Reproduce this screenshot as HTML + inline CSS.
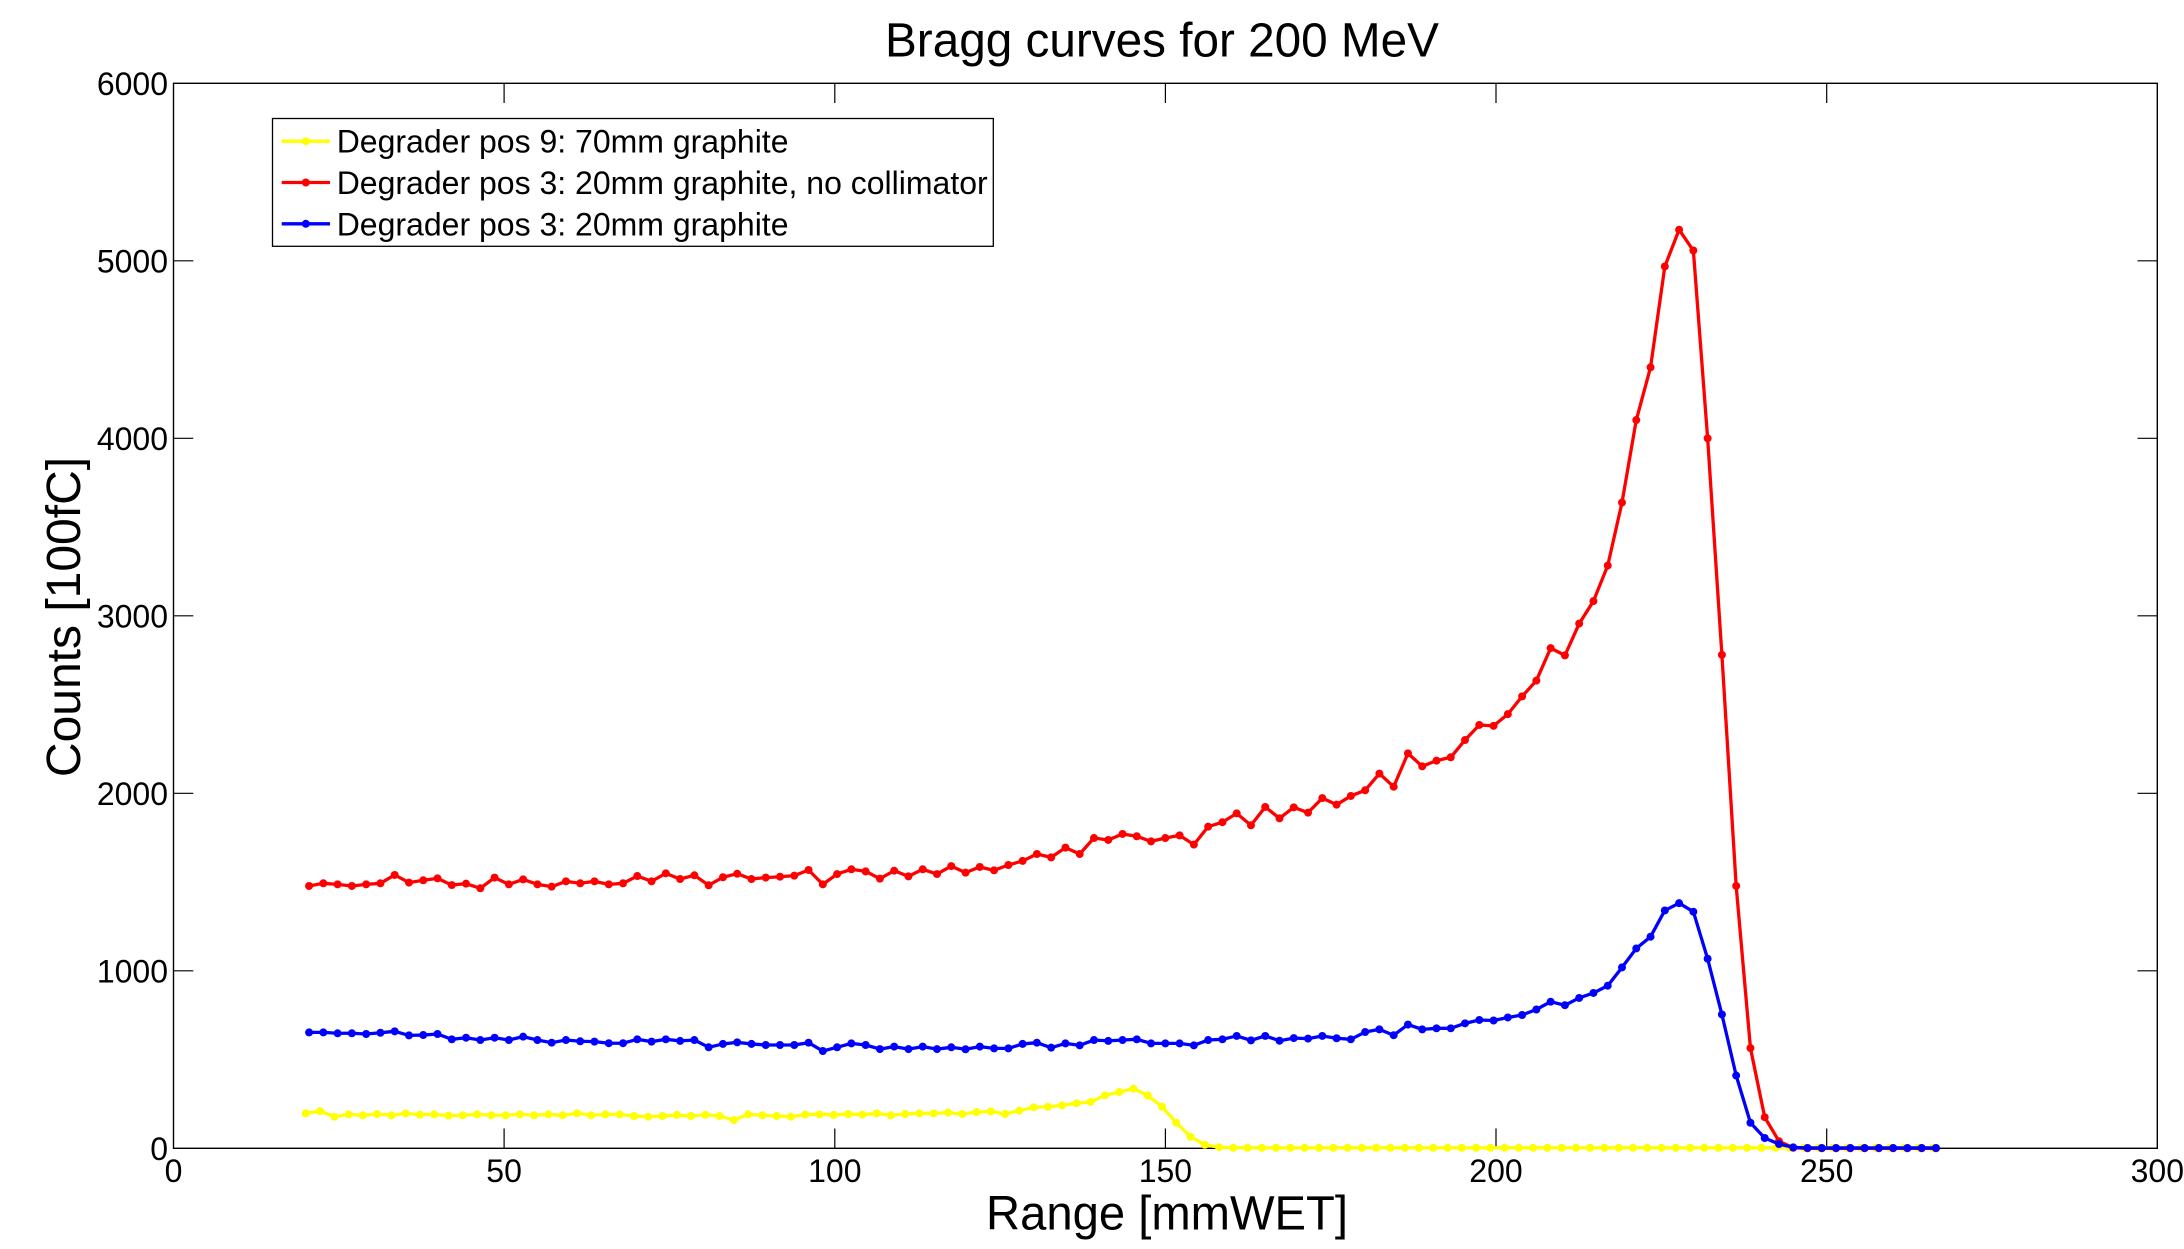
<!DOCTYPE html>
<html>
<head>
<meta charset="utf-8">
<style>
  html, body { margin: 0; padding: 0; background: #ffffff; }
  svg { display: block; }
  text { font-family: "Liberation Sans", Arial, sans-serif; fill: #000; }
</style>
</head>
<body>
<svg width="2184" height="1249" viewBox="0 0 2184 1249" xmlns="http://www.w3.org/2000/svg">
  <defs>
    <marker id="my" markerUnits="userSpaceOnUse" markerWidth="1" markerHeight="50" refX="0" refY="0" overflow="visible">
      <ellipse cx="0" cy="0" rx="0.28" ry="22.5" fill="#ffff00"/>
    </marker>
    <marker id="mr" markerUnits="userSpaceOnUse" markerWidth="1" markerHeight="50" refX="0" refY="0" overflow="visible">
      <ellipse cx="0" cy="0" rx="0.28" ry="22.5" fill="#ff0000"/>
    </marker>
    <marker id="mb" markerUnits="userSpaceOnUse" markerWidth="1" markerHeight="50" refX="0" refY="0" overflow="visible">
      <ellipse cx="0" cy="0" rx="0.28" ry="22.5" fill="#0000ff"/>
    </marker>
  </defs>

  <rect x="0" y="0" width="2184" height="1249" fill="#ffffff"/>

  <!-- Title -->
  <text x="1162" y="56.5" font-size="48" text-anchor="middle" textLength="554" lengthAdjust="spacingAndGlyphs">Bragg curves for 200 MeV</text>

  <!-- Axes box -->
  <rect x="173.5" y="83.3" width="1983.8" height="1065" fill="none" stroke="#000" stroke-width="1.4"/>

  <!-- Ticks -->
  <path d="M504.1 1148.3V1128.5M834.8 1148.3V1128.5M1165.4 1148.3V1128.5M1496 1148.3V1128.5M1826.7 1148.3V1128.5
           M504.1 83.3V103M834.8 83.3V103M1165.4 83.3V103M1496 83.3V103M1826.7 83.3V103
           M173.5 970.8H193.3M173.5 793.3H193.3M173.5 615.8H193.3M173.5 438.3H193.3M173.5 260.8H193.3
           M2157.3 970.8H2137.5M2157.3 793.3H2137.5M2157.3 615.8H2137.5M2157.3 438.3H2137.5M2157.3 260.8H2137.5"
        stroke="#000" stroke-width="1.2" fill="none"/>

  <!-- Y tick labels -->
  <g font-size="32" text-anchor="end">
    <text x="168" y="1159.8">0</text>
    <text x="168" y="982.3">1000</text>
    <text x="168" y="804.8">2000</text>
    <text x="168" y="627.3">3000</text>
    <text x="168" y="449.8">4000</text>
    <text x="168" y="272.3">5000</text>
    <text x="168" y="94.8">6000</text>
  </g>

  <!-- X tick labels -->
  <g font-size="32" text-anchor="middle">
    <text x="173.5" y="1182">0</text>
    <text x="504.1" y="1182">50</text>
    <text x="834.8" y="1182">100</text>
    <text x="1165.4" y="1182">150</text>
    <text x="1496" y="1182">200</text>
    <text x="1826.7" y="1182">250</text>
    <text x="2157.3" y="1182">300</text>
  </g>

  <!-- Axis labels -->
  <text x="1167" y="1229.3" font-size="48" text-anchor="middle" textLength="362" lengthAdjust="spacingAndGlyphs">Range [mmWET]</text>
  <text transform="translate(80,617) rotate(-90)" x="0" y="0" font-size="48" text-anchor="middle">Counts [100fC]</text>

  <!-- Yellow series -->
  <g transform="matrix(14.271 0 0 -0.1775 305.76 1148.3)">
    <polyline fill="none" stroke="#ffff00" stroke-width="3.3" stroke-linejoin="round" vector-effect="non-scaling-stroke"
      points="0,197 1,210 2,178 3,191 4,186 5,193 6,186 7,197 8,189 9,191 10,184 11,186 12,191 13,186 14,186 15,191 16,186 17,191 18,186 19,197 20,186 21,191 22,191 23,182 24,178 25,182 26,188 27,182 28,189 29,182 30,159 31,191 32,186 33,182 34,178 35,190 36,191 37,188 38,193 39,190 40,197 41,186 42,193 43,197 44,197 45,201 46,193 47,204 48,208 49,193 50,212 51,231 52,234 53,242 54,254 55,261 56,298 57,317 58,336 59,298 60,234 61,144 62,65 63,20 64,6 65,3 66,3 67,3 68,3 69,3 70,3 71,3 72,3 73,3 74,3 75,3 76,3 77,3 78,3 79,3 80,3 81,3 82,3 83,3 84,3 85,3 86,3 87,3 88,3 89,3 90,3 91,3 92,3 93,3 94,3 95,3 96,3 97,3 98,3 99,3 100,3 101,3 102,3 103,3 104,3 105,3 106,3 107,3 108,3 109,3 110,3 111,3 112,3 113,3 114,3"/>
    <polyline fill="none" stroke="none" marker-start="url(#my)" marker-mid="url(#my)" marker-end="url(#my)"
      points="0,197 1,210 2,178 3,191 4,186 5,193 6,186 7,197 8,189 9,191 10,184 11,186 12,191 13,186 14,186 15,191 16,186 17,191 18,186 19,197 20,186 21,191 22,191 23,182 24,178 25,182 26,188 27,182 28,189 29,182 30,159 31,191 32,186 33,182 34,178 35,190 36,191 37,188 38,193 39,190 40,197 41,186 42,193 43,197 44,197 45,201 46,193 47,204 48,208 49,193 50,212 51,231 52,234 53,242 54,254 55,261 56,298 57,317 58,336 59,298 60,234 61,144 62,65 63,20 64,6 65,3 66,3 67,3 68,3 69,3 70,3 71,3 72,3 73,3 74,3 75,3 76,3 77,3 78,3 79,3 80,3 81,3 82,3 83,3 84,3 85,3 86,3 87,3 88,3 89,3 90,3 91,3 92,3 93,3 94,3 95,3 96,3 97,3 98,3 99,3 100,3 101,3 102,3 103,3 104,3 105,3 106,3 107,3 108,3 109,3 110,3 111,3 112,3 113,3 114,3"/>
  </g>

  <!-- Red series -->
  <g transform="matrix(14.271 0 0 -0.1775 309.07 1148.3)">
    <polyline fill="none" stroke="#ff0000" stroke-width="3.3" stroke-linejoin="round" vector-effect="non-scaling-stroke"
      points="0,1478 1,1493 2,1487 3,1478 4,1487 5,1493 6,1540 7,1497 8,1510 9,1521 10,1483 11,1491 12,1465 13,1525 14,1487 15,1515 16,1487 17,1474 18,1504 19,1493 20,1504 21,1487 22,1493 23,1534 24,1504 25,1549 26,1517 27,1538 28,1482 29,1527 30,1547 31,1517 32,1525 33,1530 34,1536 35,1568 36,1487 37,1545 38,1572 39,1560 40,1519 41,1564 42,1532 43,1572 44,1545 45,1590 46,1553 47,1585 48,1566 49,1596 50,1619 51,1658 52,1639 53,1694 54,1658 55,1748 56,1737 57,1771 58,1758 59,1729 60,1748 61,1763 62,1711 63,1812 64,1837 65,1887 66,1820 67,1923 68,1859 69,1921 70,1891 71,1973 72,1936 73,1985 74,2017 75,2111 76,2037 77,2225 78,2152 79,2184 80,2203 81,2300 82,2385 83,2380 84,2446 85,2546 86,2635 87,2818 88,2777 89,2956 90,3083 91,3283 92,3638 93,4103 94,4400 95,4968 96,5175 97,5058 98,4000 99,2780 100,1478 101,565 102,175 103,40 104,3 105,0 106,0 107,0 108,0 109,0 110,0 111,0 112,0 113,0 114,0"/>
    <polyline fill="none" stroke="none" marker-start="url(#mr)" marker-mid="url(#mr)" marker-end="url(#mr)"
      points="0,1478 1,1493 2,1487 3,1478 4,1487 5,1493 6,1540 7,1497 8,1510 9,1521 10,1483 11,1491 12,1465 13,1525 14,1487 15,1515 16,1487 17,1474 18,1504 19,1493 20,1504 21,1487 22,1493 23,1534 24,1504 25,1549 26,1517 27,1538 28,1482 29,1527 30,1547 31,1517 32,1525 33,1530 34,1536 35,1568 36,1487 37,1545 38,1572 39,1560 40,1519 41,1564 42,1532 43,1572 44,1545 45,1590 46,1553 47,1585 48,1566 49,1596 50,1619 51,1658 52,1639 53,1694 54,1658 55,1748 56,1737 57,1771 58,1758 59,1729 60,1748 61,1763 62,1711 63,1812 64,1837 65,1887 66,1820 67,1923 68,1859 69,1921 70,1891 71,1973 72,1936 73,1985 74,2017 75,2111 76,2037 77,2225 78,2152 79,2184 80,2203 81,2300 82,2385 83,2380 84,2446 85,2546 86,2635 87,2818 88,2777 89,2956 90,3083 91,3283 92,3638 93,4103 94,4400 95,4968 96,5175 97,5058 98,4000 99,2780 100,1478 101,565 102,175 103,40 104,3 105,0 106,0 107,0 108,0 109,0 110,0 111,0 112,0 113,0 114,0"/>
  </g>

  <!-- Blue series -->
  <g transform="matrix(14.271 0 0 -0.1775 309.07 1148.3)">
    <polyline fill="none" stroke="#0000ff" stroke-width="3.3" stroke-linejoin="round" vector-effect="non-scaling-stroke"
      points="0,653 1,653 2,648 3,648 4,644 5,651 6,659 7,636 8,638 9,644 10,614 11,623 12,610 13,623 14,610 15,629 16,610 17,595 18,610 19,603 20,601 21,592 22,592 23,614 24,601 25,614 26,605 27,610 28,569 29,588 30,597 31,588 32,582 33,582 34,582 35,595 36,548 37,569 38,591 39,582 40,559 41,573 42,559 43,573 44,559 45,569 46,558 47,573 48,563 49,563 50,588 51,595 52,567 53,591 54,580 55,610 56,605 57,610 58,614 59,591 60,591 61,591 62,580 63,610 64,614 65,633 66,608 67,633 68,606 69,621 70,618 71,633 72,620 73,614 74,655 75,670 76,637 77,697 78,670 79,676 80,676 81,704 82,723 83,720 84,737 85,751 86,782 87,826 88,806 89,847 90,875 91,916 92,1019 93,1126 94,1192 95,1340 96,1381 97,1333 98,1068 99,754 100,410 101,144 102,58 103,24 104,5 105,2 106,2 107,2 108,2 109,2 110,2 111,2 112,2 113,2 114,2"/>
    <polyline fill="none" stroke="none" marker-start="url(#mb)" marker-mid="url(#mb)" marker-end="url(#mb)"
      points="0,653 1,653 2,648 3,648 4,644 5,651 6,659 7,636 8,638 9,644 10,614 11,623 12,610 13,623 14,610 15,629 16,610 17,595 18,610 19,603 20,601 21,592 22,592 23,614 24,601 25,614 26,605 27,610 28,569 29,588 30,597 31,588 32,582 33,582 34,582 35,595 36,548 37,569 38,591 39,582 40,559 41,573 42,559 43,573 44,559 45,569 46,558 47,573 48,563 49,563 50,588 51,595 52,567 53,591 54,580 55,610 56,605 57,610 58,614 59,591 60,591 61,591 62,580 63,610 64,614 65,633 66,608 67,633 68,606 69,621 70,618 71,633 72,620 73,614 74,655 75,670 76,637 77,697 78,670 79,676 80,676 81,704 82,723 83,720 84,737 85,751 86,782 87,826 88,806 89,847 90,875 91,916 92,1019 93,1126 94,1192 95,1340 96,1381 97,1333 98,1068 99,754 100,410 101,144 102,58 103,24 104,5 105,2 106,2 107,2 108,2 109,2 110,2 111,2 112,2 113,2 114,2"/>
  </g>

  <!-- Legend -->
  <rect x="272.5" y="118.5" width="720.8" height="127.8" fill="#ffffff" stroke="#000" stroke-width="1.3"/>
  <line x1="281.7" y1="141.2" x2="330" y2="141.2" stroke="#ffff00" stroke-width="3.3"/>
  <circle cx="305.8" cy="141.2" r="4" fill="#ffff00"/>
  <line x1="281.7" y1="182.5" x2="330" y2="182.5" stroke="#ff0000" stroke-width="3.3"/>
  <circle cx="305.8" cy="182.5" r="4" fill="#ff0000"/>
  <line x1="281.7" y1="223.8" x2="330" y2="223.8" stroke="#0000ff" stroke-width="3.3"/>
  <circle cx="305.8" cy="223.8" r="4" fill="#0000ff"/>
  <g font-size="32">
    <text x="336.7" y="152.7">Degrader pos 9: 70mm graphite</text>
    <text x="336.7" y="194">Degrader pos 3: 20mm graphite, no collimator</text>
    <text x="336.7" y="235.3">Degrader pos 3: 20mm graphite</text>
  </g>
</svg>
</body>
</html>
